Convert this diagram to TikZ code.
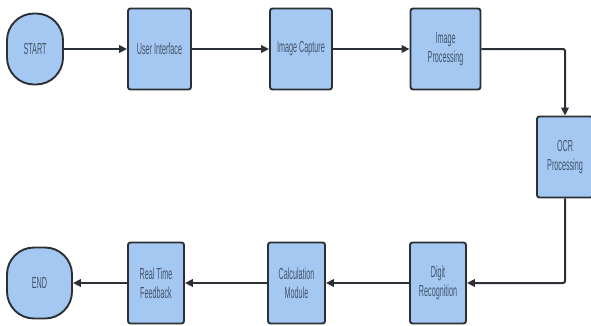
\documentclass[tikz,border=0pt]{standalone}
\usepackage{fontspec}
\setmainfont[FakeStretch=0.45]{Liberation Sans}
\usetikzlibrary{arrows.meta,positioning}
\usepackage{xcolor}
\definecolor{ink}{HTML}{2B2F36}
\definecolor{boxfill}{HTML}{A4C8F2}
\definecolor{label}{HTML}{44546A}

\begin{document}
\begin{tikzpicture}[x=1pt,y=-1pt,font=\fontsize{16}{19}\selectfont,
        blk/.style={rectangle,rounded corners=2.5pt,draw=ink,fill=boxfill,line width=1.9pt,
                  text=label,align=center,minimum height=81pt,inner sep=1pt},
        term/.style={rectangle,rounded corners=27pt,draw=ink,fill=boxfill,line width=1.9pt,
                  text=label,align=center,minimum height=71pt},
        flow/.style={-{Triangle[length=8pt,width=7.5pt]},line width=2pt,ink}]
        \useasboundingbox (0,0) rectangle (591,325);
        \node[term,minimum width=56pt] (start) at (35,49) {START};
        \node[blk,minimum width=63pt] (ui) at (159.5,49) {User Interface};
        \node[blk,minimum width=62pt] (cap) at (301,49) {Image Capture};
        \node[blk,minimum width=70pt] (proc) at (445.5,49) {Image\\Processing};
        \node[blk,minimum width=56pt] (ocr) at (565,157) {OCR\\Processing};
        \node[blk,minimum width=56pt] (digit) at (438,283) {Digit\\Recognition};
        \node[blk,minimum width=57pt] (calc) at (296.5,283) {Calculation\\Module};
        \node[blk,minimum width=56pt] (feed) at (156,283) {Real Time\\Feedback};
        \node[term,minimum width=65pt] (end) at (39.5,283) {END};
        \draw[flow] (start)--(ui);
        \draw[flow] (ui)--(cap);
        \draw[flow] (cap)--(proc);
        \draw[flow,rounded corners=2pt] (proc.east)-|(ocr.north);
        \draw[flow,rounded corners=2pt] (ocr.south)|-(digit.east);
        \draw[flow] (digit)--(calc);
        \draw[flow] (calc)--(feed);
        \draw[flow] (feed)--(end);
      \end{tikzpicture}
\end{document}
